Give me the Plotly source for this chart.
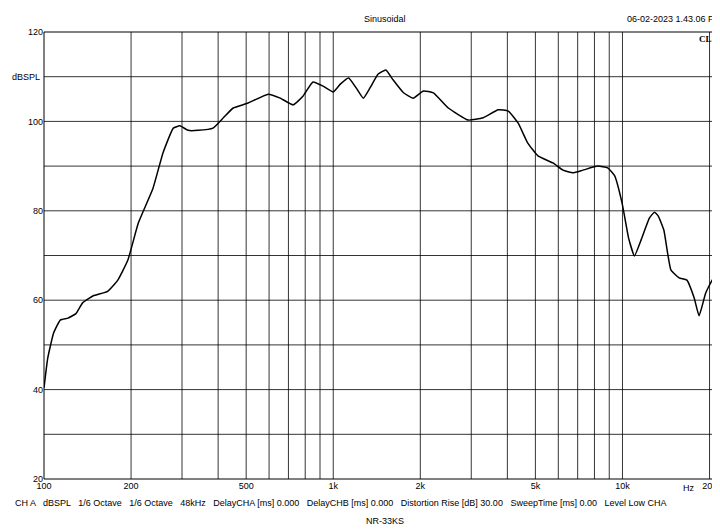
import plotly.graph_objects as go
import numpy as np

freq = [100,103,108,114,121,129,136,148,166,180,195,212,238,258,280,295,315,341,384,417,451,508,596,656,727,787,851,922,1000,1060,1130,1200,1270,1340,1430,1520,1610,1750,1890,2050,2220,2500,2930,3300,3720,4030,4360,4700,5100,5750,6230,6740,7300,8220,8890,9400,9970,10500,11000,11600,12400,12900,13300,13900,14700,15700,16700,17700,18400,19400,20700,21800,22800]
spl = [40.4,47,52.7,55.6,56,57,59.4,61,62,64.5,69,77.3,85,93,98.5,99,98,98,98.5,100.8,103,104.1,106.1,105.2,103.7,105.7,108.8,107.9,106.6,108.4,109.7,107.5,105.2,107.5,110.6,111.5,109.3,106.4,105.2,106.8,106.4,103,100.3,100.8,102.6,102.3,99.6,95.2,92.3,90.7,89.1,88.5,89.1,90,89.6,87.8,81.7,73.9,69.9,73.5,78.4,79.7,78.8,75.7,66.8,65,64.5,60.5,56.5,61.6,65,64.5,61.6]

xticks = [100,200,500,1000,2000,5000,10000,20000]
xlabels = ["100","200","500","1k","2k","5k","10k","20k"]
yticks = [20,40,60,80,100,120]

grid_x = [100*k for k in range(2,10)] + [1000*k for k in range(1,10)] + [10000,20000]

fig = go.Figure()
fig.add_trace(go.Scatter(x=freq, y=spl, mode="lines", line=dict(color="black", width=1.5, shape="spline", smoothing=0.4), showlegend=False))

shapes = []
for g in grid_x:
    shapes.append(dict(type="line", xref="x", yref="paper", x0=g, x1=g, y0=0, y1=1, line=dict(color="black", width=0.8)))
for v in range(30, 120, 10):
    shapes.append(dict(type="line", xref="paper", yref="y", x0=0, x1=1, y0=v, y1=v, line=dict(color="black", width=0.8)))
shapes.append(dict(type="rect", xref="paper", yref="paper", x0=0, x1=1, y0=0, y1=1, line=dict(color="black", width=1)))

font = dict(family="Liberation Sans, Arial", size=10, color="black")
small = dict(family="Liberation Sans, Arial", size=9, color="black")
ann = [
    dict(text="Sinusoidal", x=0.5, y=1, xref="paper", yref="paper", yanchor="bottom", yshift=6, showarrow=False, font=small),
    dict(text="06-02-2023 1.43.06 PM", x=1, y=1, xref="paper", yref="paper", xanchor="right", yanchor="bottom", yshift=6, xshift=-2, showarrow=False, font=small),
    dict(text="<b>CLIO</b>", x=1, y=1, xref="paper", yref="paper", xanchor="right", yanchor="top", xshift=-2, showarrow=False, font=dict(family="Liberation Serif", size=9, color="black")),
    dict(text="dBSPL", x=0, y=110, xref="paper", yref="y", xanchor="right", xshift=-2, showarrow=False, font=small),
    dict(text="Hz", x=np.log10(17000), y=0, xref="x", yref="paper", yanchor="top", yshift=-2, showarrow=False, font=small),
    dict(text="CH A   dBSPL   1/6 Octave   1/6 Octave   48kHz   DelayCHA [ms] 0.000   DelayCHB [ms] 0.000   Distortion Rise [dB] 30.00   SweepTime [ms] 0.00   Level Low CHA",
         x=-0.045, y=0, xref="paper", yref="paper", xanchor="left", yanchor="top", yshift=-17, showarrow=False, font=small),
    dict(text="NR-33KS", x=0.5, y=0, xref="paper", yref="paper", yanchor="top", yshift=-35, showarrow=False, font=small),
]

fig.update_layout(
    width=720, height=529, margin=dict(l=36, r=2, t=24, b=58),
    paper_bgcolor="white", plot_bgcolor="white",
    shapes=shapes, annotations=ann,
    xaxis=dict(type="log", range=[2, np.log10(22800)], tickvals=xticks, ticktext=xlabels, showgrid=False, zeroline=False, tickfont=small, ticks="", automargin=False),
    yaxis=dict(range=[20, 120], tickvals=yticks, showgrid=False, zeroline=False, tickfont=small, ticks="", automargin=False),
)
fig.write_html("out.html")
